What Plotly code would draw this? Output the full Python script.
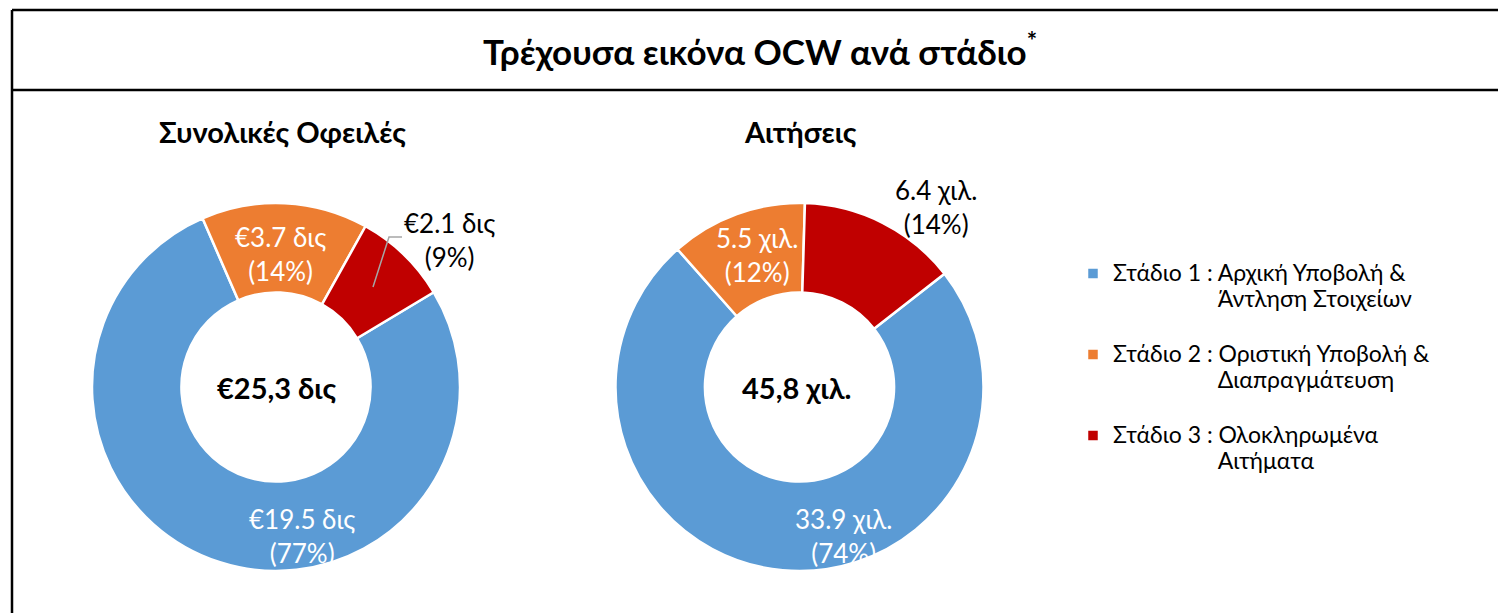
import plotly.graph_objects as go

# ---------------- data ----------------
stage_prefix = ["Στάδιο 1 : ", "Στάδιο 2 : ", "Στάδιο 3 : "]
stage_line1 = ["Αρχική Υποβολή &", "Οριστική Υποβολή &", "Ολοκληρωμένα"]
stage_line2 = ["Άντληση Στοιχείων", "Διαπραγμάτευση", "Αιτήματα"]
stage_colors = ["#5B9BD5", "#ED7D31", "#C00000"]

debt_values = [19.5, 3.7, 2.1]          # € δις
debt_pct = ["77%", "14%", "9%"]
debt_total = "€25,3 δις"

app_values = [33.9, 5.5, 6.4]           # χιλ.
app_pct = ["74%", "12%", "14%"]
app_total = "45,8 χιλ."

title_text = "Τρέχουσα εικόνα OCW ανά στάδιο<sup>*</sup>"
sub_titles = ["Συνολικές Οφειλές", "Αιτήσεις"]

# ---------------- layout helpers ----------------
W, H = 1498, 613
FONT = "Lato, 'Open Sans', sans-serif"


def px(x):
    return x / W


def py(y):
    return 1 - y / H


LS = "font-size:23px"
labels = [
    f"<span style='{LS}'>{p}{a}</span><br>"
    f"<span style='{LS};color:rgba(0,0,0,0)'>{p}</span><span style='{LS}'>{b}</span><br>\u00a0"
    for p, a, b in zip(stage_prefix, stage_line1, stage_line2)
]

fig = go.Figure()

pie_common = dict(
    labels=labels,
    hole=0.514,
    sort=False,
    direction="clockwise",
    textinfo="none",
    hoverinfo="value+percent",
    marker=dict(colors=stage_colors, line=dict(color="white", width=2.5)),
)

fig.add_trace(go.Pie(
    values=debt_values, rotation=59,
    domain=dict(x=[px(92), px(460)], y=[py(571), py(203)]),
    **pie_common,
))
fig.add_trace(go.Pie(
    values=app_values, rotation=52,
    domain=dict(x=[px(615.5), px(983.5)], y=[py(571), py(203)]),
    **pie_common,
))


def ann(text, cx, cy, size, color="black"):
    return dict(text=text, x=px(cx), y=py(cy), xref="paper", yref="paper",
                xanchor="center", yanchor="middle", showarrow=False,
                font=dict(size=size, color=color, family=FONT))


annotations = [ann(f"<b>{title_text}</b>", 760, 49, 35)]
for t, cx in zip(sub_titles, [282, 800]):
    annotations.append(ann(f"<b>{t}</b>", cx, 131, 29))
for t, cx in zip([debt_total, app_total], [276, 797]):
    annotations.append(ann(f"<b>{t}</b>", cx, 387, 29))

debt_pos = [(302, 536, "white"), (280, 254, "white"), (449, 240, "black")]
app_pos = [(843, 536, "white"), (757, 255, "white"), (936, 207, "black")]
for v, p, (cx, cy, col) in zip(debt_values, debt_pct, debt_pos):
    annotations.append(ann(f"€{v} δις<br>({p})", cx, cy, 26, col))
for v, p, (cx, cy, col) in zip(app_values, app_pct, app_pos):
    annotations.append(ann(f"{v} χιλ.<br>({p})", cx, cy, 26, col))

shapes = [
    # frame
    dict(type="line", xref="paper", yref="paper", x0=px(12), x1=1.02,
         y0=py(10), y1=py(10), line=dict(color="black", width=2.5)),
    dict(type="line", xref="paper", yref="paper", x0=px(12), x1=1.02,
         y0=py(90), y1=py(90), line=dict(color="black", width=2.5)),
    dict(type="line", xref="paper", yref="paper", x0=px(12), x1=px(12),
         y0=py(10), y1=-0.05, line=dict(color="black", width=2.5)),
    # leader line for small slice label
    dict(type="path", xref="paper", yref="paper",
         path=f"M {px(373)},{py(287)} L {px(389)},{py(237)} L {px(402)},{py(237)}",
         line=dict(color="#A6A6A6", width=1.5)),
]

fig.update_layout(
    width=W, height=H,
    margin=dict(l=0, r=0, t=0, b=0),
    paper_bgcolor="white", plot_bgcolor="white",
    font=dict(family=FONT, color="black"),
    showlegend=True,
    legend=dict(
        x=px(1073), y=py(254), xanchor="left", yanchor="top",
        valign="top", font=dict(size=20, color="black", family=FONT),
        bgcolor="rgba(0,0,0,0)", itemclick=False, itemdoubleclick=False,
    ),
    annotations=annotations,
    shapes=shapes,
)

fig.write_html("out.html", config={"displayModeBar": False},
               post_script="document.body.style.margin='0';")
